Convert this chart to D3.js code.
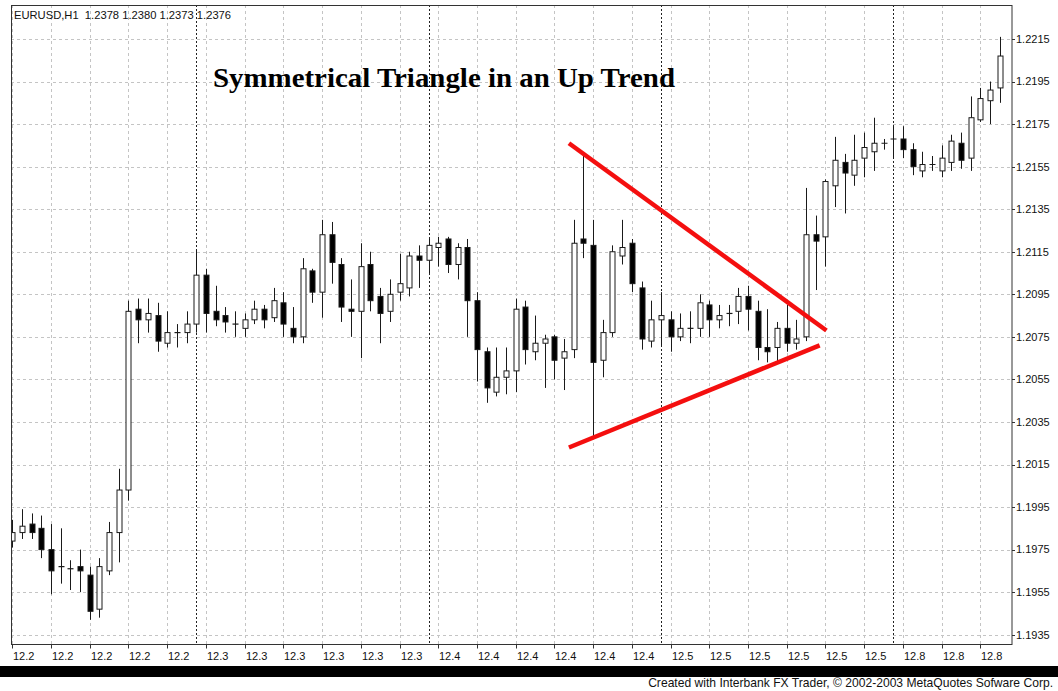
<!DOCTYPE html>
<html>
<head>
<meta charset="utf-8">
<script src="https://cdn.jsdelivr.net/npm/d3@7"></script>
<style>
  html, body { margin: 0; padding: 0; background: #fff; }
  svg { display: block; }
</style>
</head>
<body>
<svg id="chart" width="1058" height="691"></svg>
<script>
// EURUSD H1 bars, oldest first
const openPrices = [
  1.1979,1.1983,1.1987,1.1985,1.1975,1.1967,1.1966,1.1967,1.1963,1.1947,
  1.1965,1.1983,1.2003,1.2088,1.2083,1.2085,1.2072,1.2077,1.2077,1.2081,
  1.2104,1.2087,1.2085,1.2081,1.2079,1.2083,1.2088,1.2084,1.2091,1.2079,
  1.2075,1.2106,1.2096,1.2123,1.2109,1.2088,1.2087,1.2109,1.2094,1.2087,
  1.2096,1.2098,1.2113,1.2111,1.2117,1.2121,1.2109,1.2117,1.2092,1.2068,
  1.2049,1.2056,1.2059,1.2089,1.2068,1.2072,1.2075,1.2065,1.2069,1.2121,
  1.2118,1.2064,1.2077,1.2113,1.2119,1.2098,1.2073,1.2083,1.2083,1.2075,
  1.2079,1.2079,1.2090,1.2083,1.2086,1.2087,1.2094,1.2087,1.2070,1.2070,
  1.2079,1.2072,1.2075,1.2123,1.2122,1.2146,1.2157,1.2151,1.2159,1.2162,
  1.2166,1.2168,1.2168,1.2163,1.2153,1.2156,1.2153,1.2157,1.2166,1.2159,
  1.2177,1.2186,1.2192
];
const highPrices = [
  1.1989,1.1994,1.1992,1.1991,1.1987,1.1985,1.1970,1.1975,1.1967,1.1971,
  1.1988,1.2013,1.2092,1.2093,1.2093,1.2091,1.2087,1.2081,1.2087,1.2116,
  1.2107,1.2099,1.2089,1.2087,1.2086,1.2092,1.2090,1.2098,1.2096,1.2089,
  1.2112,1.2107,1.2130,1.2129,1.2112,1.2102,1.2119,1.2115,1.2098,1.2102,
  1.2114,1.2115,1.2118,1.2121,1.2122,1.2122,1.2119,1.2121,1.2096,1.2070,
  1.2070,1.2070,1.2093,1.2092,1.2085,1.2076,1.2076,1.2074,1.2130,1.2160,
  1.2130,1.2083,1.2118,1.2130,1.2121,1.2101,1.2092,1.2096,1.2087,1.2086,
  1.2087,1.2095,1.2092,1.2090,1.2090,1.2098,1.2099,1.2092,1.2088,1.2082,
  1.2090,1.2083,1.2145,1.2132,1.2149,1.2169,1.2161,1.2170,1.2171,1.2178,
  1.2168,1.2174,1.2174,1.2166,1.2162,1.2160,1.2165,1.2170,1.2171,1.2188,
  1.2192,1.2195,1.2216
];
const lowPrices = [
  1.1976,1.1980,1.1980,1.1971,1.1954,1.1959,1.1956,1.1955,1.1942,1.1943,
  1.1963,1.1969,1.1998,1.2072,1.2077,1.2068,1.2070,1.2070,1.2072,1.2077,
  1.2077,1.2080,1.2077,1.2075,1.2075,1.2081,1.2079,1.2082,1.2075,1.2072,
  1.2072,1.2091,1.2084,1.2100,1.2082,1.2075,1.2065,1.2087,1.2072,1.2082,
  1.2092,1.2094,1.2098,1.2105,1.2108,1.2105,1.2102,1.2075,1.2054,1.2044,
  1.2047,1.2048,1.2049,1.2062,1.2064,1.2051,1.2055,1.2050,1.2065,1.2112,
  1.2028,1.2056,1.2075,1.2109,1.2096,1.2069,1.2070,1.2071,1.2068,1.2073,
  1.2072,1.2075,1.2075,1.2079,1.2080,1.2081,1.2078,1.2064,1.2063,1.2063,
  1.2068,1.2069,1.2073,1.2097,1.2108,1.2136,1.2133,1.2146,1.2150,1.2153,
  1.2163,1.2159,1.2159,1.2151,1.2150,1.2153,1.2150,1.2153,1.2154,1.2153,
  1.2176,1.2175,1.2185
];
const closePrices = [
  1.1983,1.1986,1.1983,1.1975,1.1965,1.1967,1.1966,1.1965,1.1946,1.1967,
  1.1983,1.2003,1.2087,1.2083,1.2086,1.2073,1.2077,1.2077,1.2081,1.2104,
  1.2086,1.2083,1.2082,1.2081,1.2083,1.2088,1.2083,1.2092,1.2081,1.2075,
  1.2107,1.2096,1.2123,1.2110,1.2089,1.2087,1.2108,1.2092,1.2086,1.2095,
  1.2100,1.2113,1.2111,1.2118,1.2119,1.2109,1.2117,1.2092,1.2069,1.2051,
  1.2056,1.2059,1.2088,1.2069,1.2072,1.2074,1.2064,1.2068,1.2119,1.2119,
  1.2063,1.2077,1.2115,1.2117,1.2100,1.2074,1.2083,1.2085,1.2075,1.2079,
  1.2079,1.2091,1.2083,1.2085,1.2086,1.2094,1.2088,1.2070,1.2068,1.2079,
  1.2072,1.2074,1.2123,1.2120,1.2148,1.2158,1.2152,1.2158,1.2164,1.2166,
  1.2166,1.2168,1.2163,1.2155,1.2156,1.2156,1.2159,1.2167,1.2158,1.2178,
  1.2187,1.2191,1.2207
];

// Price axis ticks and time axis labels (one label every 4 bars)
const priceTicks = [1.2215,1.2195,1.2175,1.2155,1.2135,1.2115,1.2095,1.2075,
                    1.2055,1.2035,1.2015,1.1995,1.1975,1.1955,1.1935];
const timeLabels = ["12.2","12.2","12.2","12.2","12.2",
                    "12.3","12.3","12.3","12.3","12.3","12.3",
                    "12.4","12.4","12.4","12.4","12.4","12.4",
                    "12.5","12.5","12.5","12.5","12.5","12.5",
                    "12.8","12.8","12.8"];
// Bars at which a new trading day starts
const daySeparators = [19, 43, 67, 91];

// Triangle boundaries: [bar index, price] at each end
const upperLine = [[57.5, 1.2166], [84.1, 1.2078]];
const lowerLine = [[57.5, 1.2023], [83.4, 1.2071]];

const headerText = "EURUSD,H1  1.2378 1.2380 1.2373 1.2376";
const titleText = "Symmetrical Triangle in an Up Trend";
const footerText = "Created with Interbank FX Trader, \u00A9 2002-2003 MetaQuotes Sofware Corp.";

const bars = openPrices.map((o, i) => ({
  i, o, h: highPrices[i], l: lowPrices[i], c: closePrices[i]
}));

const svg = d3.select("#chart");
const plot = { left: 11, top: 5, right: 1012.5, bottom: 645 };
const uiFont = "'Liberation Sans', Arial, sans-serif";

const x = d3.scaleLinear().domain([0, 102]).range([12.3, 999.7]);
const y = d3.scaleLinear().domain([1.1935, 1.2215]).range([634.7, 39]);

svg.append("defs").append("clipPath").attr("id", "plotClip")
  .append("rect")
  .attr("x", plot.left).attr("y", plot.top)
  .attr("width", plot.right - plot.left).attr("height", plot.bottom - plot.top);

const gridG = svg.append("g").attr("clip-path", "url(#plotClip)");

// dashed grid
gridG.selectAll("line.hgrid").data(priceTicks).join("line")
  .attr("class", "hgrid")
  .attr("x1", plot.left).attr("x2", plot.right)
  .attr("y1", d => Math.round(y(d)) + 0.5).attr("y2", d => Math.round(y(d)) + 0.5)
  .attr("stroke", "#c4c4c4").attr("stroke-width", 1)
  .attr("stroke-dasharray", "3,3");

const tickIdx = d3.range(0, 101, 4);
gridG.selectAll("line.vgrid").data(tickIdx).join("line")
  .attr("class", "vgrid")
  .attr("x1", d => Math.round(x(d)) + 0.5).attr("x2", d => Math.round(x(d)) + 0.5)
  .attr("y1", plot.top).attr("y2", plot.bottom)
  .attr("stroke", "#c4c4c4").attr("stroke-width", 1)
  .attr("stroke-dasharray", "3,3");

// day separators
gridG.selectAll("line.day").data(daySeparators).join("line")
  .attr("class", "day")
  .attr("x1", d => Math.round(x(d)) + 0.5).attr("x2", d => Math.round(x(d)) + 0.5)
  .attr("y1", plot.top).attr("y2", plot.bottom)
  .attr("stroke", "#222").attr("stroke-width", 1)
  .attr("stroke-dasharray", "2,2");

// candles
const candleG = svg.append("g").attr("clip-path", "url(#plotClip)");
const bodyW = 5;
const cg = candleG.selectAll("g.bar").data(bars).join("g").attr("class", "bar");

cg.append("line")
  .attr("x1", d => Math.round(x(d.i)) + 0.5).attr("x2", d => Math.round(x(d.i)) + 0.5)
  .attr("y1", d => y(d.h)).attr("y2", d => y(d.l))
  .attr("stroke", "#1a1a1a").attr("stroke-width", 1);

cg.each(function(d) {
  const g = d3.select(this);
  const cx = Math.round(x(d.i)) + 0.5;
  const top = y(Math.max(d.o, d.c));
  const bot = y(Math.min(d.o, d.c));
  if (Math.abs(bot - top) < 1.2) {
    g.append("line")
      .attr("x1", cx - bodyW / 2 - 0.5).attr("x2", cx + bodyW / 2 + 0.5)
      .attr("y1", (top + bot) / 2).attr("y2", (top + bot) / 2)
      .attr("stroke", "#1a1a1a").attr("stroke-width", 1.2);
  } else {
    g.append("rect")
      .attr("x", cx - bodyW / 2).attr("width", bodyW)
      .attr("y", top).attr("height", bot - top)
      .attr("fill", d.c >= d.o ? "#fff" : "#000")
      .attr("stroke", "#1a1a1a").attr("stroke-width", 1);
  }
});

// triangle boundaries
const lineGen = d3.line().x(d => x(d[0])).y(d => y(d[1]));
svg.selectAll("path.trend").data([upperLine, lowerLine]).join("path")
  .attr("class", "trend")
  .attr("d", lineGen)
  .attr("fill", "none")
  .attr("stroke", "#f40f0f").attr("stroke-width", 4.5);

// frame
svg.append("rect")
  .attr("x", plot.left + 0.5).attr("y", plot.top + 0.5)
  .attr("width", plot.right - plot.left - 1).attr("height", plot.bottom - plot.top - 1)
  .attr("fill", "none").attr("stroke", "#333").attr("stroke-width", 1);

// price axis
const yAxisG = svg.append("g").attr("transform", `translate(${plot.right - 0.5},0)`);
yAxisG.selectAll("line").data(priceTicks).join("line")
  .attr("x1", 0).attr("x2", 3)
  .attr("y1", d => Math.round(y(d)) + 0.5).attr("y2", d => Math.round(y(d)) + 0.5)
  .attr("stroke", "#333");
yAxisG.selectAll("text").data(priceTicks).join("text")
  .attr("x", 4).attr("y", d => y(d))
  .attr("dy", "0.35em")
  .attr("font-family", uiFont).attr("font-size", 11).attr("fill", "#111")
  .text(d => d.toFixed(4));

// time axis
const xAxisG = svg.append("g").attr("transform", `translate(0,${plot.bottom - 0.5})`);
xAxisG.selectAll("line").data(tickIdx).join("line")
  .attr("x1", d => Math.round(x(d)) + 0.5).attr("x2", d => Math.round(x(d)) + 0.5)
  .attr("y1", 0).attr("y2", 4)
  .attr("stroke", "#333");
xAxisG.selectAll("text").data(tickIdx).join("text")
  .attr("x", d => Math.round(x(d)) + 1).attr("y", 15)
  .attr("font-family", uiFont).attr("font-size", 11).attr("fill", "#111")
  .text((d, k) => timeLabels[k]);

// header, title, footer
svg.append("text")
  .attr("x", 14).attr("y", 19)
  .attr("font-family", uiFont).attr("font-size", 11.2).attr("fill", "#111")
  .style("white-space", "pre")
  .text(headerText);

svg.append("text")
  .attr("x", 213).attr("y", 87)
  .attr("font-family", "'Liberation Serif', 'Times New Roman', serif")
  .attr("font-weight", "bold").attr("font-size", 27.5).attr("fill", "#000")
  .attr("textLength", 462).attr("lengthAdjust", "spacingAndGlyphs")
  .text(titleText);

svg.append("rect")
  .attr("x", 0).attr("y", 666).attr("width", 1058).attr("height", 11)
  .attr("fill", "#000");

svg.append("text")
  .attr("x", 1053).attr("y", 687).attr("text-anchor", "end")
  .attr("font-family", uiFont).attr("font-size", 12.1).attr("fill", "#111")
  .text(footerText);
</script>
</body>
</html>
